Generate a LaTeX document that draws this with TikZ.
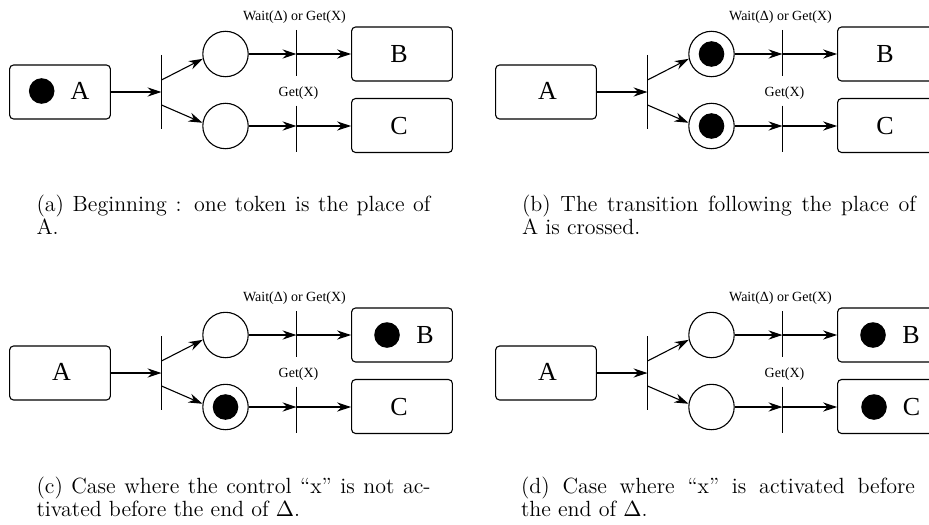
\documentclass[tikz,border=0pt]{standalone}
\usepackage{fontspec}
\usetikzlibrary{arrows.meta,positioning}
\newfontfamily\netfont{Liberation Serif}

\begin{document}
\begin{tikzpicture}[x=0.5pt, y=-0.5pt, line width=0.55pt, >={Stealth[length=7pt,width=4.6pt]},
    box/.style={draw, rounded corners=2pt, minimum width=50.4pt, minimum height=27pt, inner sep=0pt},
    letter/.style={font=\netfont\fontsize{13}{13}\selectfont, inner sep=0pt},
    place/.style={draw, circle, minimum size=22.7pt, inner sep=0pt},
    token/.style={fill, circle, minimum size=12.8pt, inner sep=0pt},
    bar/.style={inner sep=0pt, minimum width=0pt, outer sep=0pt},
    guard/.style={font=\netfont\fontsize{7}{7}\selectfont, inner sep=0pt},
    legend/.style={font=\fontsize{11}{11.5}\selectfont, text width=197pt, align=justify, inner sep=0pt, anchor=base west}]

    \clip (0,0) rectangle (929,524);

    % one net per panel: token in A / places / B / C
    \foreach \dx/\dy/\n/\tA/\tP/\tB/\tC in {0/0/a/1/0/0/0, 486/0/b/0/1/0/0, 0/281/c/0/2/1/0, 486/281/d/0/0/1/1} {
    \begin{scope}[shift={(\dx,\dy)}]
        \node[box] (A-\n) at (60,92) {};
        \node[box] (B-\n) at (402,54) {};
        \node[box] (C-\n) at (402,125.5) {};
        \node[place] (p1-\n) at (225.5,54) {};
        \node[place] (p2-\n) at (225.5,126) {};

        \node[bar, minimum height=37pt] (t0-\n) at (161.5,92) {};
        \node[bar, minimum height=23pt] (t1-\n) at (296.5,53) {};
        \node[bar, minimum height=23pt] (t2-\n) at (296.5,128.5) {};
        \draw (t0-\n.north) -- (t0-\n.south);
        \draw (t1-\n.north) -- (t1-\n.south);
        \draw (t2-\n.north) -- (t2-\n.south);
        \node[guard, above=3pt of t1-\n, xshift=-1pt] (g1-\n) {Wait(Δ) or Get(X)};
        \node[guard, above=2.5pt of t2-\n, xshift=1pt] (g2-\n) {Get(X)};

        \draw[->] (A-\n) -- (t0-\n);
        \draw[->] ([yshift=6pt]t0-\n.center) -- (p1-\n.192);
        \draw[->] ([yshift=-6.5pt]t0-\n.center) -- (p2-\n.172);
        \draw[->] (p1-\n) -- (p1-\n -| t1-\n);
        \draw[->] (p1-\n -| t1-\n) -- (p1-\n -| B-\n.west);
        \draw[->] (p2-\n) -- (p2-\n -| t2-\n);
        \draw[->] (p2-\n -| t2-\n) -- (p2-\n -| C-\n.west);

        % tokens
        \ifnum\tA=1
            \node[token] (kA-\n) at (41.7,91) {};
            \node[letter] (lA-\n) at (80,91) {A};
        \else
            \node[letter] (lA-\n) at (61.5,91) {A};
        \fi
        \ifnum\tP=1
            \node[token] (k1-\n) at (p1-\n) {};
        \fi
        \ifnum\tP>0
            \node[token] (k2-\n) at (p2-\n) {};
        \fi
        \ifnum\tB=1
            \node[token] (kB-\n) at (387,54) {};
            \node[letter] (lB-\n) at (425,54) {B};
        \else
            \node[letter] (lB-\n) at (399,54) {B};
        \fi
        \ifnum\tC=1
            \node[token] (kC-\n) at (388,126) {};
            \node[letter] (lC-\n) at (425.5,126) {C};
        \else
            \node[letter] (lC-\n) at (399,126) {C};
        \fi
    \end{scope}
    }

    % captions
    \node[legend] (cap-a) at (36,211.7) {(a) Beginning : one token is the place of\linebreak A.};
    \node[legend] (cap-b) at (521.5,211.7) {(b) The transition following the place of\linebreak A is crossed.};
    \node[legend] (cap-c) at (36,493.3) {(c) Case where the control “x” is not ac-\linebreak tivated before the end of $\Delta$.};
    \node[legend] (cap-d) at (520.5,493.3) {(d) Case where “x” is activated before\linebreak the end of $\Delta$.};
\end{tikzpicture}
\end{document}
